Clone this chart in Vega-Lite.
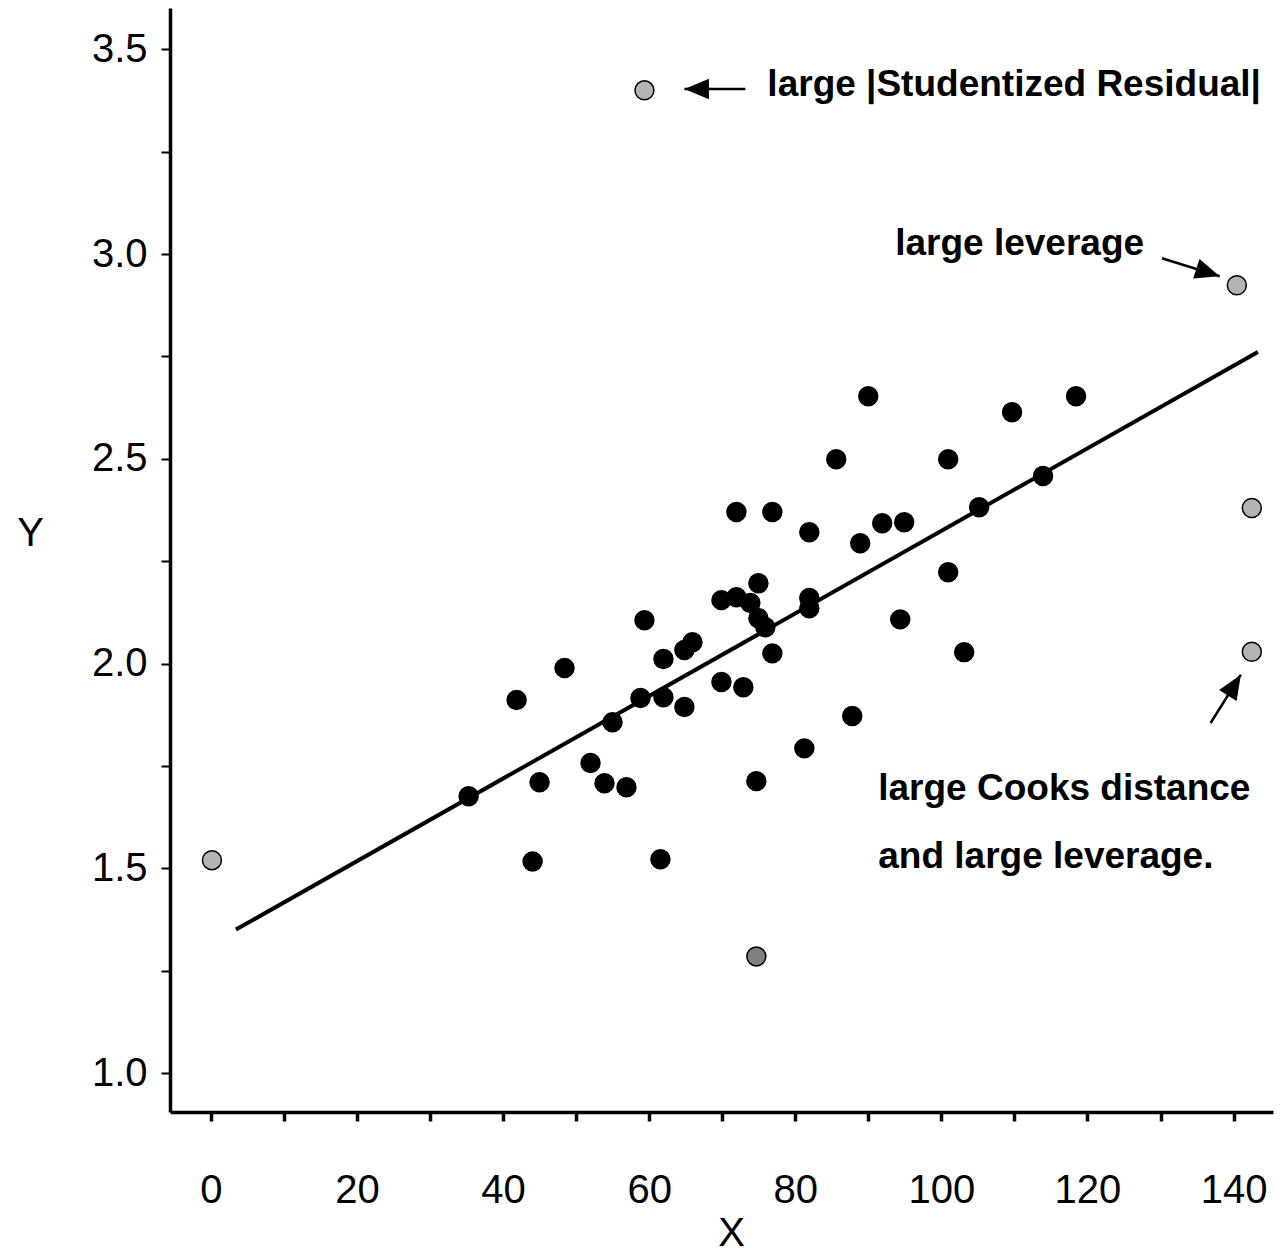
{
  "$schema": "https://vega.github.io/schema/vega-lite/v6.json",
  "width": 1103,
  "height": 1104,
  "autosize": {"type": "none"},
  "padding": {"left": 170, "top": 8, "right": 14, "bottom": 143},
  "background": "white",
  "config": {"view": {"stroke": null}, "font": "Liberation Sans"},
  "datasets": {
    "fit": [
      {"x": 3.42, "y": 1.3505},
      {"x": 143.33, "y": 2.761}
    ],
    "obs": [
      {"x": 35.28, "y": 1.676, "kind": "typical"},
      {"x": 41.85, "y": 1.911, "kind": "typical"},
      {"x": 44.99, "y": 1.710, "kind": "typical"},
      {"x": 44.04, "y": 1.517, "kind": "typical"},
      {"x": 48.41, "y": 1.989, "kind": "typical"},
      {"x": 51.97, "y": 1.757, "kind": "typical"},
      {"x": 53.88, "y": 1.708, "kind": "typical"},
      {"x": 54.98, "y": 1.857, "kind": "typical"},
      {"x": 56.89, "y": 1.698, "kind": "typical"},
      {"x": 59.35, "y": 2.106, "kind": "typical"},
      {"x": 58.81, "y": 1.916, "kind": "typical"},
      {"x": 61.54, "y": 1.522, "kind": "typical"},
      {"x": 61.95, "y": 2.011, "kind": "typical"},
      {"x": 61.95, "y": 1.918, "kind": "typical"},
      {"x": 64.82, "y": 1.894, "kind": "typical"},
      {"x": 64.82, "y": 2.033, "kind": "typical"},
      {"x": 65.92, "y": 2.052, "kind": "typical"},
      {"x": 69.89, "y": 2.155, "kind": "typical"},
      {"x": 69.89, "y": 1.955, "kind": "typical"},
      {"x": 71.94, "y": 2.370, "kind": "typical"},
      {"x": 71.94, "y": 2.162, "kind": "typical"},
      {"x": 72.89, "y": 1.942, "kind": "typical"},
      {"x": 73.85, "y": 2.148, "kind": "typical"},
      {"x": 74.95, "y": 2.196, "kind": "typical"},
      {"x": 74.95, "y": 2.111, "kind": "typical"},
      {"x": 75.90, "y": 2.089, "kind": "typical"},
      {"x": 74.67, "y": 1.713, "kind": "typical"},
      {"x": 76.86, "y": 2.370, "kind": "typical"},
      {"x": 76.86, "y": 2.025, "kind": "typical"},
      {"x": 81.24, "y": 1.793, "kind": "typical"},
      {"x": 81.92, "y": 2.321, "kind": "typical"},
      {"x": 81.92, "y": 2.160, "kind": "typical"},
      {"x": 81.92, "y": 2.135, "kind": "typical"},
      {"x": 85.61, "y": 2.499, "kind": "typical"},
      {"x": 87.80, "y": 1.872, "kind": "typical"},
      {"x": 88.89, "y": 2.294, "kind": "typical"},
      {"x": 89.99, "y": 2.653, "kind": "typical"},
      {"x": 91.90, "y": 2.343, "kind": "typical"},
      {"x": 94.37, "y": 2.108, "kind": "typical"},
      {"x": 94.91, "y": 2.345, "kind": "typical"},
      {"x": 100.93, "y": 2.499, "kind": "typical"},
      {"x": 100.93, "y": 2.223, "kind": "typical"},
      {"x": 103.12, "y": 2.028, "kind": "typical"},
      {"x": 105.17, "y": 2.382, "kind": "typical"},
      {"x": 109.68, "y": 2.614, "kind": "typical"},
      {"x": 113.92, "y": 2.458, "kind": "typical"},
      {"x": 118.44, "y": 2.653, "kind": "typical"},
      {"x": 59.35, "y": 3.400, "kind": "unusual"},
      {"x": 140.45, "y": 2.924, "kind": "unusual"},
      {"x": 142.5, "y": 2.380, "kind": "unusual"},
      {"x": 142.5, "y": 2.029, "kind": "unusual"},
      {"x": 0.14, "y": 1.520, "kind": "unusual"},
      {"x": 74.67, "y": 1.285, "kind": "low"}
    ],
    "arrows": [
      {"x": 73.17, "y": 3.403, "tx": 64.83, "ty": 3.403, "heading": 270},
      {"x": 130.2, "y": 2.990, "tx": 138.1, "ty": 2.946, "heading": 107.8},
      {"x": 136.86, "y": 1.855, "tx": 141.0, "ty": 1.973, "heading": 32}
    ],
    "notes": [
      {"x": 76.18, "y": 3.413, "text": "large |Studentized Residual|"},
      {"x": 93.68, "y": 3.024, "text": "large leverage"},
      {"x": 91.36, "y": 1.693, "text": "large Cooks distance"},
      {"x": 91.36, "y": 1.527, "text": "and large leverage."}
    ]
  },
  "layer": [
    {
      "data": {"name": "fit"},
      "mark": {"type": "line", "color": "black", "strokeWidth": 4},
      "encoding": {
        "x": {
          "field": "x", "type": "quantitative", "title": "X",
          "scale": {"domain": [-5.6, 145.4], "nice": false, "zero": false},
          "axis": {
            "values": [0, 10, 20, 30, 40, 50, 60, 70, 80, 90, 100, 110, 120, 130, 140],
            "labelExpr": "datum.value % 20 === 0 ? datum.label : ''",
            "grid": false,
            "domainColor": "black", "domainWidth": 3.5,
            "tickColor": "black", "tickWidth": 3.5, "tickSize": 9,
            "labelFont": "Liberation Sans", "labelFontSize": 40, "labelColor": "black",
            "labelPadding": 49, "labelDx": 6, "labelFlush": false,
            "titleFont": "Liberation Sans", "titleFontSize": 40, "titleFontWeight": "normal",
            "titleColor": "black", "titleX": 561, "titleY": 133,
            "titleAlign": "center", "titleBaseline": "alphabetic"
          }
        },
        "y": {
          "field": "y", "type": "quantitative", "title": "Y",
          "scale": {"domain": [0.905, 3.601], "nice": false, "zero": false},
          "axis": {
            "values": [1, 1.25, 1.5, 1.75, 2, 2.25, 2.5, 2.75, 3, 3.25, 3.5],
            "labelExpr": "datum.value % 0.5 === 0 ? format(datum.value, '.1f') : ''",
            "grid": false,
            "domainColor": "black", "domainWidth": 3.5,
            "tickColor": "black", "tickWidth": 2, "tickSize": 9,
            "labelFont": "Liberation Sans", "labelFontSize": 40, "labelColor": "black",
            "labelPadding": 14, "labelFlush": false,
            "titleFont": "Liberation Sans", "titleFontSize": 40, "titleFontWeight": "normal",
            "titleColor": "black", "titleAngle": 0, "titleX": -140, "titleY": 525,
            "titleAlign": "center", "titleBaseline": "middle"
          }
        }
      }
    },
    {
      "data": {"name": "obs"},
      "mark": {"type": "point", "shape": "circle", "filled": true, "stroke": "black", "strokeWidth": 1.5, "size": 360, "opacity": 1},
      "encoding": {
        "x": {"field": "x", "type": "quantitative", "title": "X"},
        "y": {"field": "y", "type": "quantitative", "title": "Y"},
        "fill": {
          "field": "kind", "type": "nominal", "legend": null,
          "scale": {"domain": ["typical", "unusual", "low"], "range": ["black", "#b4b4b4", "#808080"]}
        }
      }
    },
    {
      "data": {"name": "arrows"},
      "mark": {"type": "rule", "color": "black", "strokeWidth": 2.5},
      "encoding": {
        "x": {"field": "x", "type": "quantitative", "title": "X"},
        "y": {"field": "y", "type": "quantitative", "title": "Y"},
        "x2": {"field": "tx"},
        "y2": {"field": "ty"}
      }
    },
    {
      "data": {"name": "arrows"},
      "mark": {"type": "point", "shape": "M0,0L0.42,1L-0.42,1Z", "filled": true, "color": "black", "opacity": 1, "size": 2400, "strokeWidth": 0},
      "encoding": {
        "x": {"field": "tx", "type": "quantitative", "title": "X"},
        "y": {"field": "ty", "type": "quantitative", "title": "Y"},
        "angle": {"field": "heading", "type": "quantitative", "scale": null}
      }
    },
    {
      "data": {"name": "notes"},
      "mark": {"type": "text", "align": "left", "baseline": "middle", "font": "Liberation Sans", "fontWeight": "bold", "fontSize": 37, "color": "black"},
      "encoding": {
        "x": {"field": "x", "type": "quantitative", "title": "X"},
        "y": {"field": "y", "type": "quantitative", "title": "Y"},
        "text": {"field": "text"}
      }
    }
  ]
}
